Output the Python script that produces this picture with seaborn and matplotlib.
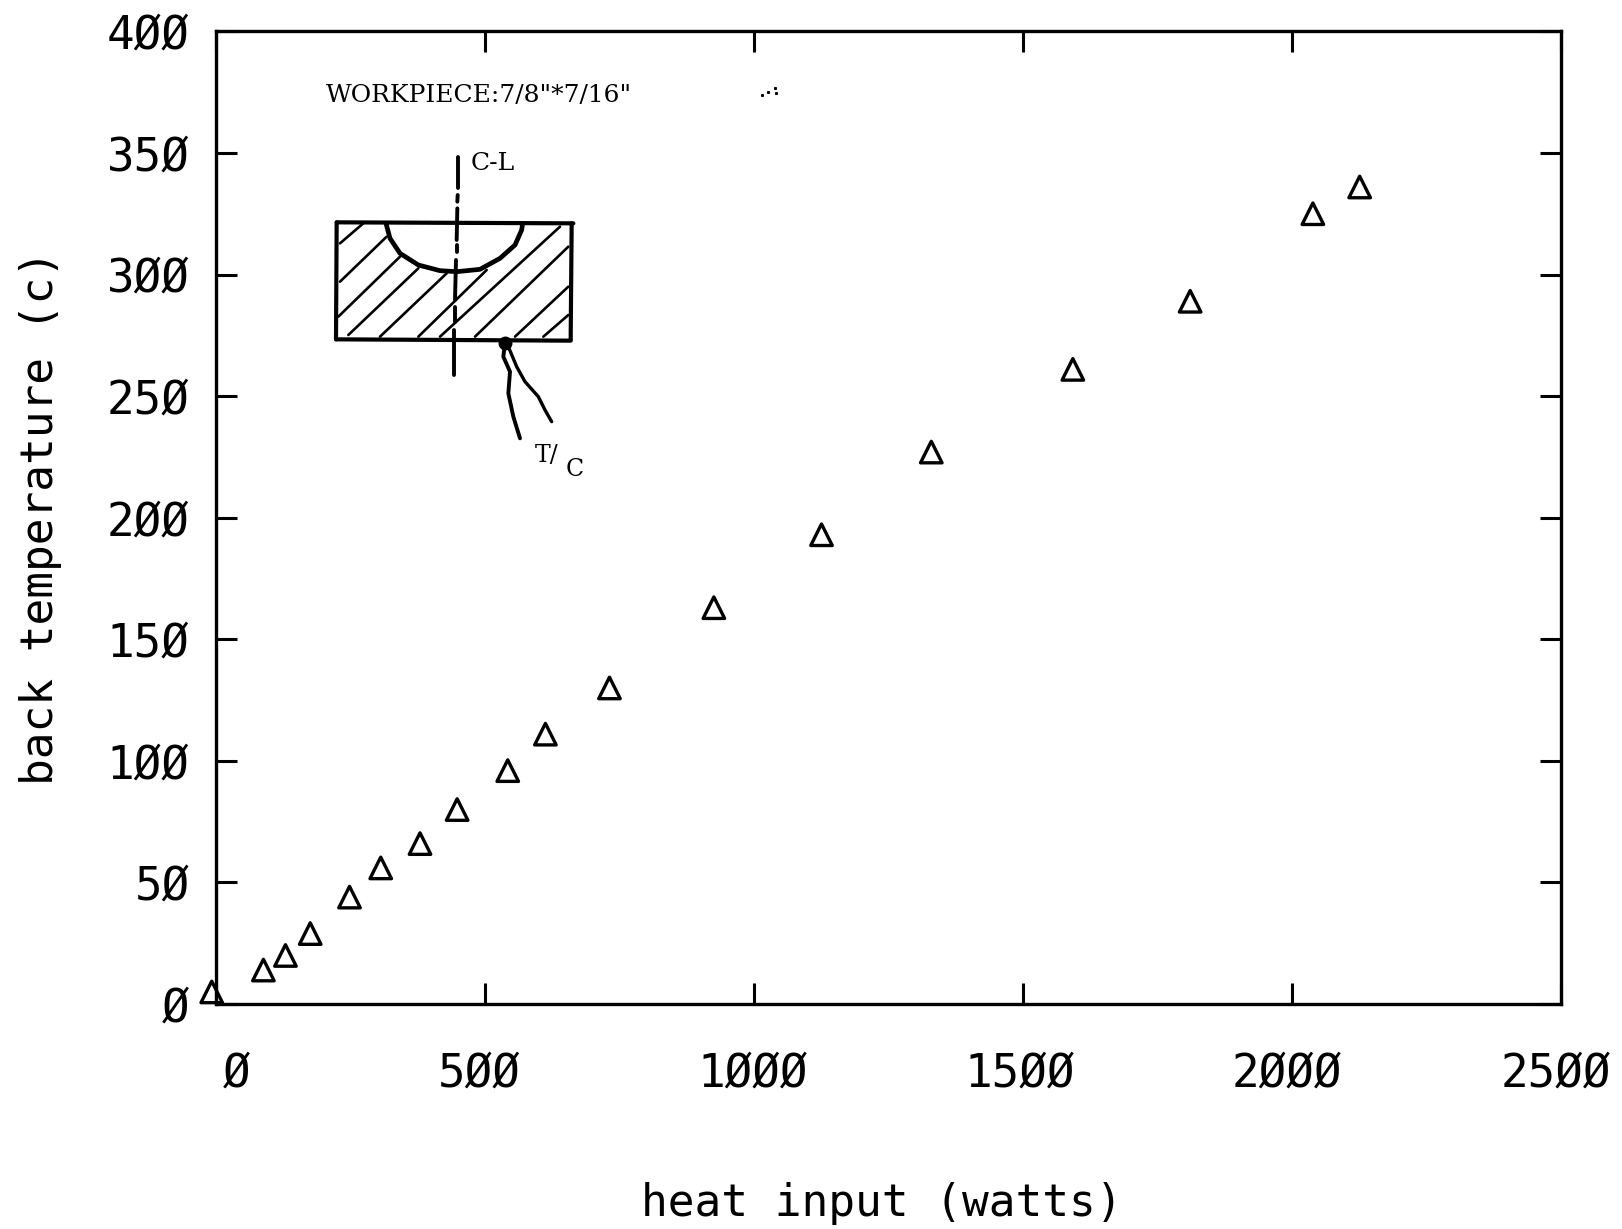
import matplotlib
matplotlib.use('Agg')
import matplotlib.pyplot as plt
from matplotlib.transforms import ScaledTranslation
import seaborn as sns
import pandas as pd

heat_input = [-8, 88, 129, 175, 248, 306, 379, 448, 542, 612, 731, 925, 1125, 1329, 1592, 1810, 2038, 2125]
back_temp = [5, 14, 20, 29, 44, 56, 66, 80, 96, 111, 130, 163, 193, 227, 261, 289, 325, 336]
x_ticks = [0, 500, 1000, 1500, 2000, 2500]
y_ticks = [0, 50, 100, 150, 200, 250, 300, 350, 400]

df = pd.DataFrame({'heat': heat_input, 'temp': back_temp})

# hand drawn inset, in pixels of a 3x crop starting at (300, 60)
box_lines = [[(110, 487), (820, 490)], [(815, 490), (812, 840)],
             [(108, 838), (812, 842)], [(110, 487), (108, 838)]]
hatch_lines = [[(120, 550), (190, 490)], [(120, 665), (260, 530)], [(115, 770), (300, 590)],
               [(145, 825), (355, 625)], [(240, 830), (440, 640)], [(355, 830), (560, 630)],
               [(420, 830), (780, 500)], [(525, 830), (805, 560)], [(645, 830), (805, 680)],
               [(730, 830), (805, 765)]]
bowl = [(258, 490), (270, 535), (300, 580), (355, 615), (420, 632), (470, 635),
        (540, 628), (600, 595), (645, 555), (665, 510), (668, 490)]
centre_line = [[(473, 290), (473, 385)], [(473, 405), (472, 425)], [(472, 445), (470, 540)],
               [(470, 555), (470, 575)], [(468, 600), (465, 720)], [(465, 740), (465, 785)],
               [(463, 810), (463, 945)]]
wire_a = [(615, 850), (610, 890), (630, 935), (625, 1000), (640, 1070), (660, 1135)]
wire_b = [(625, 860), (650, 920), (675, 965), (715, 1010), (735, 1050), (755, 1085)]
specks = [(1385, 105), (1405, 95), (1425, 85), (1428, 100)]


def slashed(v):
    # plotter style zeros
    return str(v).replace('0', '\u00d8')


def crop_xy(points):
    xs = [(300 + p[0] / 3) / 1622 for p in points]
    ys = [1 - (60 + p[1] / 3) / 1229 for p in points]
    return xs, ys


sns.set_style('ticks')
plt.rcParams['font.family'] = ['DejaVu Sans Mono']
plt.rcParams.update({'text.color': 'black', 'axes.labelcolor': 'black', 'axes.edgecolor': 'black',
                     'xtick.color': 'black', 'ytick.color': 'black'})

fig = plt.figure(figsize=(16.22, 12.29), dpi=100)
ax = fig.add_axes([0.1332, 0.183, 0.8295, 0.7915])

sns.scatterplot(data=df, x='heat', y='temp', marker='^', s=240, facecolor='none',
                edgecolor='black', linewidth=2.4, clip_on=False, ax=ax)

ax.set_xlim(0, 2500)
ax.set_ylim(0, 400)
ax.set_xticks(x_ticks)
ax.set_yticks(y_ticks)
ax.set_xticklabels([slashed(v) for v in x_ticks], fontsize=33)
ax.set_yticklabels([slashed(v) for v in y_ticks], fontsize=33)
ax.tick_params(direction='in', length=15, width=2.2, top=True, right=True)
ax.tick_params(axis='x', pad=34)
ax.tick_params(axis='y', pad=19)
for spine in ax.spines.values():
    spine.set_visible(True)
    spine.set_linewidth(2.4)

# labels were not centred under their ticks on the plotter
for label, shift in zip(ax.get_xticklabels(), [21, -6, -2, -4, -6, -6]):
    label.set_transform(label.get_transform() + ScaledTranslation(shift / 100, 0, fig.dpi_scale_trans))

ax.set_xlabel('heat input (watts)', fontsize=32, labelpad=62, x=0.4946)
ax.set_ylabel('back temperature (c)', fontsize=32, labelpad=32)

serif = ['DejaVu Serif']
tf = fig.transFigure
for points in box_lines:
    xs, ys = crop_xy(points)
    ax.plot(xs, ys, color='black', lw=3, transform=tf, clip_on=False)
for points in hatch_lines:
    xs, ys = crop_xy(points)
    ax.plot(xs, ys, color='black', lw=1.9, transform=tf, clip_on=False)
for points in centre_line:
    xs, ys = crop_xy(points)
    ax.plot(xs, ys, color='black', lw=2.8, transform=tf, clip_on=False)
for points, width in [(bowl, 3.4), (wire_a, 2.8), (wire_b, 2.4)]:
    xs, ys = crop_xy(points)
    ax.plot(xs, ys, color='black', lw=width, transform=tf, clip_on=False)
xs, ys = crop_xy([(615, 848)])
ax.plot(xs, ys, 'o', color='black', ms=9, transform=tf, clip_on=False)
xs, ys = crop_xy(specks)
ax.plot(xs, ys, 's', color='black', ms=1.2, transform=tf, clip_on=False)

for txt, zx, zy, size in [('WORKPIECE:7/8"*7/16"', 78, 105, 18), ('C-L', 512, 310, 18),
                          ('T/', 703, 1185, 17), ('C', 798, 1228, 17)]:
    xs, ys = crop_xy([(zx, zy)])
    fig.text(xs[0], ys[0], txt, family=serif, fontsize=size, va='center', ha='left')

fig.savefig('out.png', dpi=100)
